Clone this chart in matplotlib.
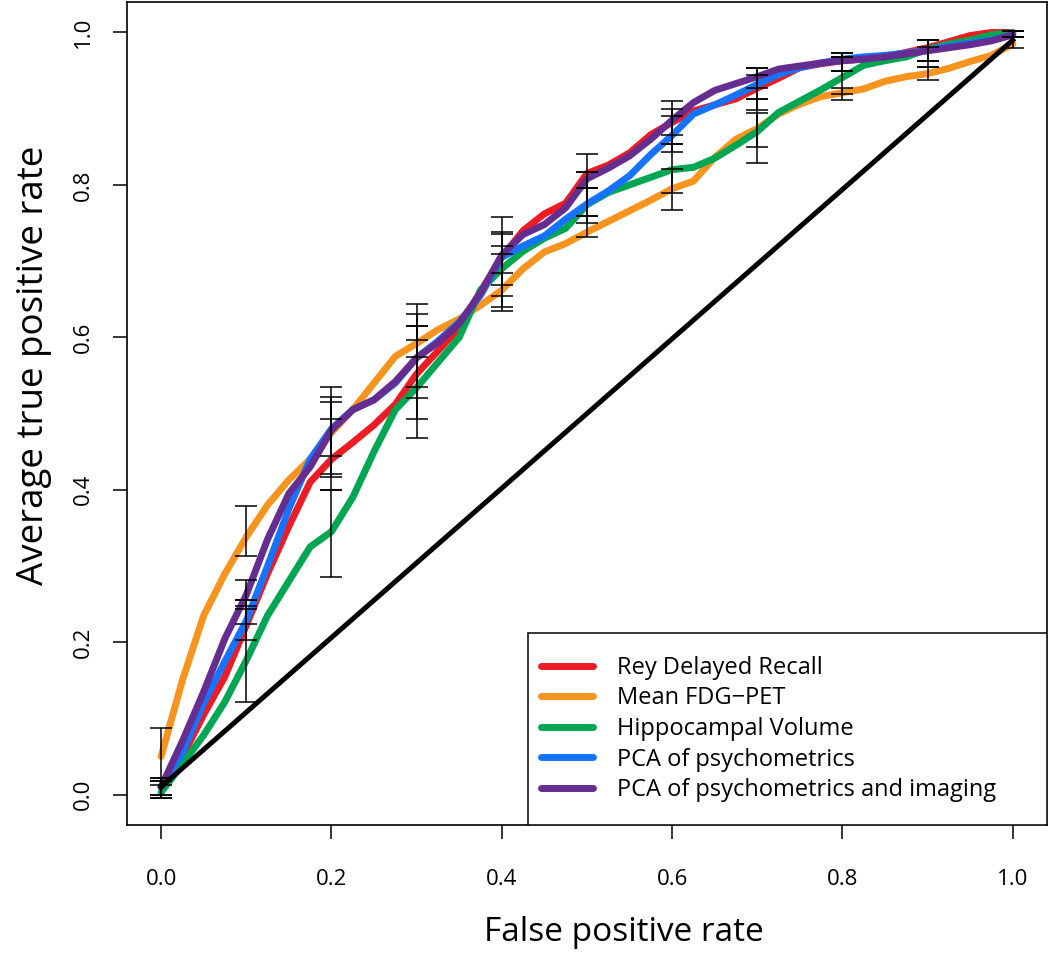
"""ROC curves (average true positive rate vs false positive rate) with error bars."""
import matplotlib

matplotlib.use("Agg")
import matplotlib.pyplot as plt
from matplotlib.patches import Rectangle

plt.rcParams["font.family"] = ["Open Sans", "DejaVu Sans"]

# shared false-positive-rate grid for the smoothed curves
FPR = [i / 40 for i in range(41)]

RED = [0.01, 0.05, 0.105, 0.155, 0.222, 0.29, 0.352, 0.41, 0.44, 0.462, 0.485,
       0.512, 0.552, 0.582, 0.613, 0.66, 0.705, 0.74, 0.762, 0.776, 0.815,
       0.826, 0.842, 0.866, 0.882, 0.897, 0.905, 0.913, 0.927, 0.94, 0.954,
       0.959, 0.963, 0.965, 0.968, 0.974, 0.98, 0.988, 0.996, 1.0, 1.0]
ORANGE = [0.05, 0.15, 0.235, 0.29, 0.338, 0.38, 0.413, 0.44, 0.475, 0.505, 0.54,
          0.575, 0.592, 0.61, 0.624, 0.642, 0.662, 0.69, 0.712, 0.723, 0.738,
          0.752, 0.766, 0.78, 0.795, 0.805, 0.836, 0.86, 0.874, 0.893, 0.906,
          0.916, 0.921, 0.926, 0.936, 0.942, 0.946, 0.953, 0.962, 0.97, 0.985]
GREEN = [0.003, 0.04, 0.078, 0.122, 0.176, 0.235, 0.28, 0.325, 0.345, 0.39, 0.45,
         0.505, 0.534, 0.567, 0.6, 0.662, 0.69, 0.713, 0.73, 0.743, 0.774,
         0.79, 0.8, 0.81, 0.82, 0.823, 0.835, 0.852, 0.87, 0.895, 0.91,
         0.925, 0.941, 0.957, 0.963, 0.968, 0.978, 0.985, 0.99, 0.997, 1.0]
BLUE = [0.01, 0.055, 0.12, 0.175, 0.228, 0.3, 0.375, 0.44, 0.48, 0.505, 0.518,
        0.54, 0.573, 0.595, 0.62, 0.655, 0.705, 0.72, 0.733, 0.755, 0.775,
        0.792, 0.812, 0.84, 0.865, 0.893, 0.905, 0.918, 0.932, 0.945, 0.954,
        0.96, 0.965, 0.968, 0.97, 0.973, 0.977, 0.982, 0.986, 0.99, 0.997]
PURPLE = [0.01, 0.07, 0.135, 0.205, 0.262, 0.335, 0.395, 0.43, 0.478, 0.505, 0.518,
          0.542, 0.573, 0.593, 0.618, 0.658, 0.708, 0.735, 0.748, 0.77, 0.808,
          0.822, 0.838, 0.86, 0.885, 0.908, 0.924, 0.933, 0.942, 0.952, 0.956,
          0.96, 0.963, 0.965, 0.968, 0.972, 0.976, 0.98, 0.984, 0.989, 0.997]

# error bars (lower / upper) at FPR = 0, 0.1, ..., 1
BAR_FPR = [i / 10 for i in range(11)]
RED_LO = [0.0, 0.203, 0.40, 0.493, 0.668, 0.796, 0.854, 0.898, 0.949, 0.963, 0.994]
RED_HI = [0.022, 0.248, 0.493, 0.615, 0.758, 0.84, 0.91, 0.954, 0.973, 0.99, 1.002]
ORANGE_LO = [0.013, 0.313, 0.417, 0.535, 0.634, 0.732, 0.767, 0.85, 0.911, 0.937, 0.979]
ORANGE_HI = [0.087, 0.378, 0.535, 0.644, 0.709, 0.759, 0.821, 0.894, 0.927, 0.955, 0.994]
GREEN_LO = [-0.004, 0.121, 0.286, 0.468, 0.64, 0.75, 0.789, 0.829, 0.919, 0.963, 0.994]
GREEN_HI = [0.018, 0.282, 0.40, 0.597, 0.72, 0.817, 0.854, 0.913, 0.968, 0.99, 1.002]
BLUE_LO = [-0.004, 0.224, 0.444, 0.521, 0.654, 0.759, 0.843, 0.913, 0.949, 0.963, 0.994]
BLUE_HI = [0.022, 0.255, 0.515, 0.631, 0.735, 0.796, 0.89, 0.944, 0.968, 0.981, 1.002]
PURPLE_LO = [0.0, 0.244, 0.421, 0.574, 0.685, 0.796, 0.866, 0.927, 0.949, 0.955, 0.994]
PURPLE_HI = [0.018, 0.255, 0.522, 0.615, 0.738, 0.817, 0.9, 0.954, 0.973, 0.99, 1.002]

LABELS = ["Rey Delayed Recall", "Mean FDG\u2212PET", "Hippocampal Volume",
          "PCA of psychometrics", "PCA of psychometrics and imaging"]
COLOURS = ["#ed1c24", "#f7941e", "#00a651", "#1673ff", "#662d91"]

CHANCE_X = [0.0, 1.0]
CHANCE_Y = [0.01, 0.99]


def main():
    fig = plt.figure(figsize=(10.5, 9.55), dpi=100)
    ax = fig.add_axes([0.121, 0.1361, 0.876, 0.8618])

    curves = [RED, ORANGE, GREEN, BLUE, PURPLE]
    lows = [RED_LO, ORANGE_LO, GREEN_LO, BLUE_LO, PURPLE_LO]
    highs = [RED_HI, ORANGE_HI, GREEN_HI, BLUE_HI, PURPLE_HI]

    handles = []
    for ys, col, lab in zip(curves, COLOURS, LABELS):
        h, = ax.plot(FPR, ys, color=col, lw=5, label=lab,
                     solid_capstyle="round", solid_joinstyle="round", zorder=2)
        handles.append(h)

    ax.plot(CHANCE_X, CHANCE_Y, color="black", lw=3.6, zorder=3)

    for lo, hi in zip(lows, highs):
        mid = [(a + b) / 2 for a, b in zip(lo, hi)]
        half = [(b - a) / 2 for a, b in zip(lo, hi)]
        ax.errorbar(BAR_FPR, mid, yerr=half, fmt="none", ecolor="black",
                    elinewidth=1.1, capsize=8, capthick=1.1, zorder=4)

    ax.set_xlim(-0.04, 1.04)
    ax.set_ylim(-0.04, 1.04)
    ticks = [0.0, 0.2, 0.4, 0.6, 0.8, 1.0]
    ax.set_xticks(ticks)
    ax.set_yticks(ticks)
    ax.set_xticklabels([f"{t:.1f}" for t in ticks])
    ax.set_yticklabels([f"{t:.1f}" for t in ticks], rotation=90, va="center")
    ax.tick_params(axis="both", direction="out", length=10, width=1.1,
                   labelsize=16, colors="black")
    ax.tick_params(axis="x", pad=22)
    ax.tick_params(axis="y", pad=14)
    for sp in ax.spines.values():
        sp.set_linewidth(1.2)

    ax.set_xlabel("False positive rate", fontsize=24)
    ax.set_ylabel("Average true positive rate", fontsize=26.5)
    # labels sit slightly off-centre in the original figure
    ax.xaxis.set_label_coords(0.540, -0.110)
    ax.yaxis.set_label_coords(-0.082, 0.558)

    # legend box in the lower right corner, as in base-R legend()
    ax.add_patch(Rectangle((0.436, 0.0), 0.564, 0.2336, transform=ax.transAxes,
                           facecolor="white", edgecolor="black", lw=1.1, zorder=5))
    ax.legend(handles=handles, loc="upper left", bbox_to_anchor=(0.44, 0.217),
              frameon=False, fontsize=17, handlelength=2.2, handletextpad=1.0,
              labelspacing=0.28, borderaxespad=0).set_zorder(6)

    fig.savefig("out.png", dpi=100)
    plt.close(fig)


if __name__ == "__main__":
    main()
